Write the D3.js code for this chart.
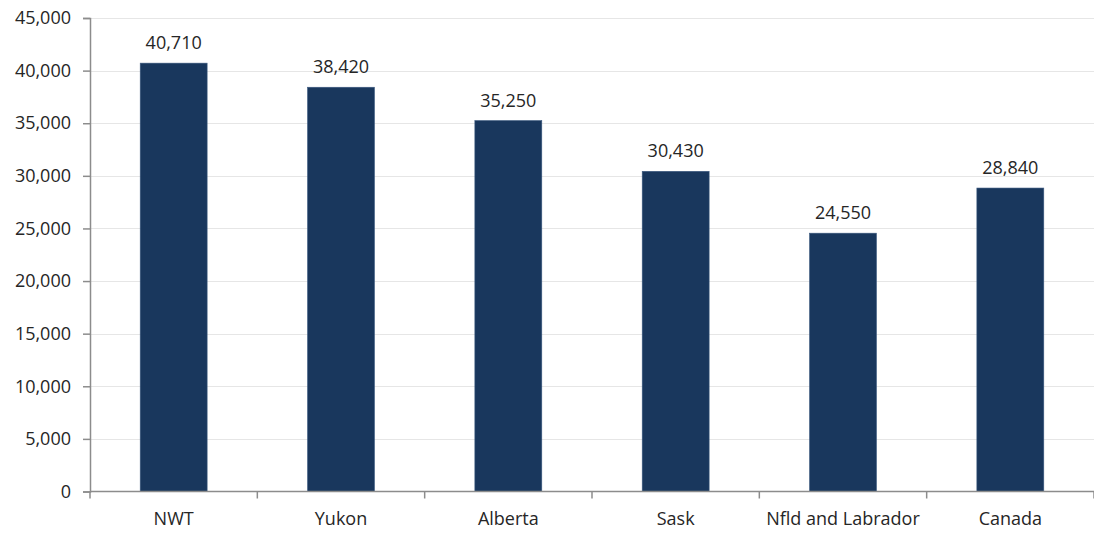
<!DOCTYPE html>
<html>
<head>
<meta charset="utf-8">
<script src="https://cdn.jsdelivr.net/npm/d3@7"></script>
<style>
  html, body { margin: 0; padding: 0; background: #fff; }
  svg text { font-family: "Open Sans", "Noto Sans", sans-serif; fill: #262626; }
</style>
</head>
<body>
<svg id="chart" width="1094" height="539"></svg>
<script>
// Average value by region
const regions = ["NWT", "Yukon", "Alberta", "Sask", "Nfld and Labrador", "Canada"];
const values = [40710, 38420, 35250, 30430, 24550, 28840];
const yTicks = [0, 5000, 10000, 15000, 20000, 25000, 30000, 35000, 40000, 45000];

const svg = d3.select("#chart");
const plotLeft = 90, plotRight = 1094, plotTop = 18, plotBottom = 491.5;
const fontSize = 18;

const x = d3.scaleBand().domain(regions).range([plotLeft, plotRight])
  .paddingInner(0.6).paddingOuter(0.3);
const y = d3.scaleLinear().domain([0, 45000]).range([plotBottom, plotTop]);

const fmt = d3.format(",");

// horizontal gridlines
svg.append("g").selectAll("line").data(yTicks.filter(d => d > 0)).join("line")
  .attr("x1", plotLeft).attr("x2", plotRight)
  .attr("y1", d => Math.round(y(d)) + 0.5).attr("y2", d => Math.round(y(d)) + 0.5)
  .attr("stroke", "#e6e6e6").attr("stroke-width", 1);

// bars
svg.append("g").selectAll("rect").data(regions).join("rect")
  .attr("x", d => x(d))
  .attr("width", x.bandwidth())
  .attr("y", (d, i) => y(values[i]))
  .attr("height", (d, i) => y(0) - y(values[i]))
  .attr("fill", "#19375d")
  .attr("stroke", "#3d5a80").attr("stroke-width", 0.6);

// value labels
svg.append("g").selectAll("text").data(regions).join("text")
  .attr("x", d => x(d) + x.bandwidth() / 2)
  .attr("y", (d, i) => y(values[i]) - 14)
  .attr("text-anchor", "middle")
  .attr("font-size", fontSize)
  .text((d, i) => fmt(values[i]));

// y axis
const yAxis = svg.append("g").attr("transform", `translate(${plotLeft},0)`)
  .call(d3.axisLeft(y).tickValues(yTicks).tickFormat(fmt).tickSize(7).tickPadding(12));
yAxis.select(".domain").attr("stroke", "#8c8c8c").attr("stroke-width", 1.5);
yAxis.selectAll(".tick line").attr("stroke", "#8c8c8c").attr("stroke-width", 1.5);
yAxis.selectAll(".tick text").attr("font-size", fontSize).attr("fill", "#262626")
  .attr("font-family", "'Open Sans', sans-serif");

// x axis with ticks at category boundaries
const xg = svg.append("g");
xg.append("line").attr("x1", plotLeft).attr("x2", plotRight)
  .attr("y1", plotBottom).attr("y2", plotBottom)
  .attr("stroke", "#8c8c8c").attr("stroke-width", 1.5);
const bounds = regions.map(d => x(d) - x.step() * x.paddingInner() / 2);
bounds.push(plotRight);
bounds[0] = plotLeft;
xg.selectAll("line.b").data(bounds).join("line").attr("class", "b")
  .attr("x1", d => d).attr("x2", d => d)
  .attr("y1", plotBottom).attr("y2", plotBottom + 7)
  .attr("stroke", "#8c8c8c").attr("stroke-width", 1.5);
xg.selectAll("text").data(regions).join("text")
  .attr("x", d => x(d) + x.bandwidth() / 2)
  .attr("y", 525)
  .attr("text-anchor", "middle")
  .attr("font-size", fontSize)
  .text(d => d);
</script>
</body>
</html>
